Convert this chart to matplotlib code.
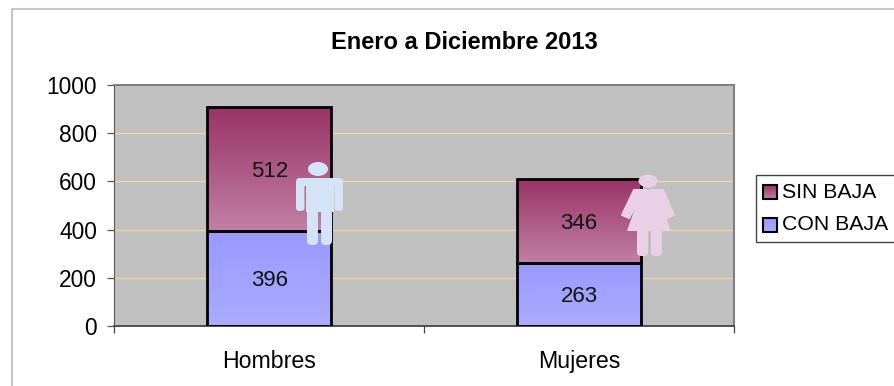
import matplotlib
matplotlib.use("Agg")
import matplotlib.pyplot as plt
from matplotlib.colors import LinearSegmentedColormap
from matplotlib.patches import Ellipse, FancyBboxPatch, Polygon, Rectangle
from matplotlib.lines import Line2D
import numpy as np

categories = ["Hombres", "Mujeres"]
con_baja = [396, 263]
sin_baja = [512, 346]
yticks = [0, 200, 400, 600, 800, 1000]

W, H = 894, 386
plt.rcParams["font.family"] = ["Liberation Sans", "DejaVu Sans"]

fig = plt.figure(figsize=(W / 100, H / 100), dpi=100, facecolor="white")


# pixel helpers, y measured from the top like in the picture
def px_rect(x0, y0, x1, y1):
    return [x0 / W, 1 - y1 / H, (x1 - x0) / W, (y1 - y0) / H]


ax = fig.add_axes(px_rect(114.5, 85, 734, 326), facecolor="#C0C0C0")

grad = np.linspace(0, 1, 256).reshape(-1, 1)
cmap_sin = LinearSegmentedColormap.from_list("sin", ["#C080A4", "#993366"])
cmap_con = LinearSegmentedColormap.from_list("con", ["#ABABFF", "#9999FF"])

ax.yaxis.grid(True, color="#F5D3A8", lw=1)
ax.set_axisbelow(True)

bar_w = 0.4
for i, cat in enumerate(categories):
    x0 = i + 0.5 - bar_w / 2
    parts = [(0, con_baja[i], cmap_con), (con_baja[i], sin_baja[i], cmap_sin)]
    for bottom, height, cm in parts:
        ax.imshow(grad, cmap=cm, origin="lower", aspect="auto", zorder=2,
                  extent=(x0, x0 + bar_w, bottom, bottom + height))
        ax.add_patch(Rectangle((x0, bottom), bar_w, height, fill=False, ec="black", lw=2, zorder=3))
        ax.text(i + 0.5, bottom + height / 2, str(height), ha="center", va="center_baseline",
                fontsize=16, color="#111111", zorder=4)
ax.set_xlim(0, 2)
ax.set_ylim(0, 1000)

ax.set_yticks(yticks)
ax.set_xticks([0, 1, 2])
ax.set_xticklabels([])
ax.set_xticks([0.5, 1.5], categories, minor=True)
ax.tick_params(axis="x", which="minor", length=0, labelsize=16.7, pad=17)
ax.tick_params(axis="x", which="major", length=5, width=0.9, color="#444444", direction="out")
ax.tick_params(axis="y", length=5, width=0.9, color="#555555", labelsize=16.4, pad=7.5)
ax.spines["top"].set_color("#808080")
ax.spines["top"].set_linewidth(1.5)
ax.spines["right"].set_color("#808080")
ax.spines["right"].set_linewidth(1.5)
ax.spines["left"].set_color("#555555")
ax.spines["bottom"].set_color("#444444")
ax.spines["bottom"].set_linewidth(1.3)

fig.text(464 / W, 1 - 40 / H, "Enero a Diciembre 2013", ha="center", va="center_baseline",
         fontsize=17, fontweight="bold")

# outer chart border
overlay = fig.add_axes([0, 0, 1, 1], facecolor="none")
overlay.axis("off")
overlay.add_line(Line2D([12, 12, 894], [386, 9, 9], color="#C8C8C8", lw=1.5))

# man pictogram
man = "#D5E3F6"
overlay.add_patch(Ellipse((318, 169), 20, 14, fc=man, ec="none", zorder=5))
overlay.add_patch(FancyBboxPatch((296, 178), 47, 8, boxstyle="round,pad=0,rounding_size=4", fc=man, ec="none", zorder=5))
overlay.add_patch(FancyBboxPatch((296, 180), 8.5, 31, boxstyle="round,pad=0,rounding_size=3.5", fc=man, ec="none", zorder=5))
overlay.add_patch(FancyBboxPatch((334.5, 180), 8.5, 31, boxstyle="round,pad=0,rounding_size=3.5", fc=man, ec="none", zorder=5))
overlay.add_patch(Rectangle((305.5, 180), 28, 32, fc=man, ec="none", zorder=5))
overlay.add_patch(FancyBboxPatch((307, 205), 11, 40, boxstyle="round,pad=0,rounding_size=4.5", fc=man, ec="none", zorder=5))
overlay.add_patch(FancyBboxPatch((321, 205), 11, 40, boxstyle="round,pad=0,rounding_size=4.5", fc=man, ec="none", zorder=5))

# woman pictogram
woman = "#E9D0E6"
overlay.add_patch(Ellipse((648, 181), 19, 13, fc=woman, ec="none", zorder=5))
overlay.add_patch(Polygon([[641, 190], [656, 190], [671, 231], [627, 231]], fc=woman, ec="none", zorder=5))
overlay.add_patch(Polygon([[634, 190], [646, 190], [640, 198], [629, 218], [622, 215]], fc=woman, ec=woman, lw=1.5, joinstyle="round", zorder=5))
overlay.add_patch(Polygon([[651, 190], [663, 190], [674, 215], [667, 218], [657, 198]], fc=woman, ec=woman, lw=1.5, joinstyle="round", zorder=5))
overlay.add_patch(FancyBboxPatch((637, 225), 11, 31, boxstyle="round,pad=0,rounding_size=4", fc=woman, ec="none", zorder=5))
overlay.add_patch(FancyBboxPatch((651, 225), 11, 31, boxstyle="round,pad=0,rounding_size=4", fc=woman, ec="none", zorder=5))

# legend box
overlay.add_patch(Rectangle((756, 175), 140, 67, fc="white", ec="#444444", lw=1, zorder=1))
leg_labels = ["SIN BAJA", "CON BAJA"]
leg_y = [192, 225]
leg_cmaps = [cmap_sin, cmap_con]
for lab, ly, cm in zip(leg_labels, leg_y, leg_cmaps):
    overlay.imshow(grad, cmap=cm, origin="lower", aspect="auto", zorder=2,
                   extent=(763, 777, ly + 7, ly - 7))
    overlay.add_patch(Rectangle((763, ly - 7), 14, 14, fill=False, ec="black", lw=1.5, zorder=3))
    overlay.text(782, ly, lab, ha="left", va="center", fontsize=15.3, zorder=4)
overlay.set_xlim(0, W)
overlay.set_ylim(H, 0)

fig.savefig("out.png", dpi=100, facecolor="white")
